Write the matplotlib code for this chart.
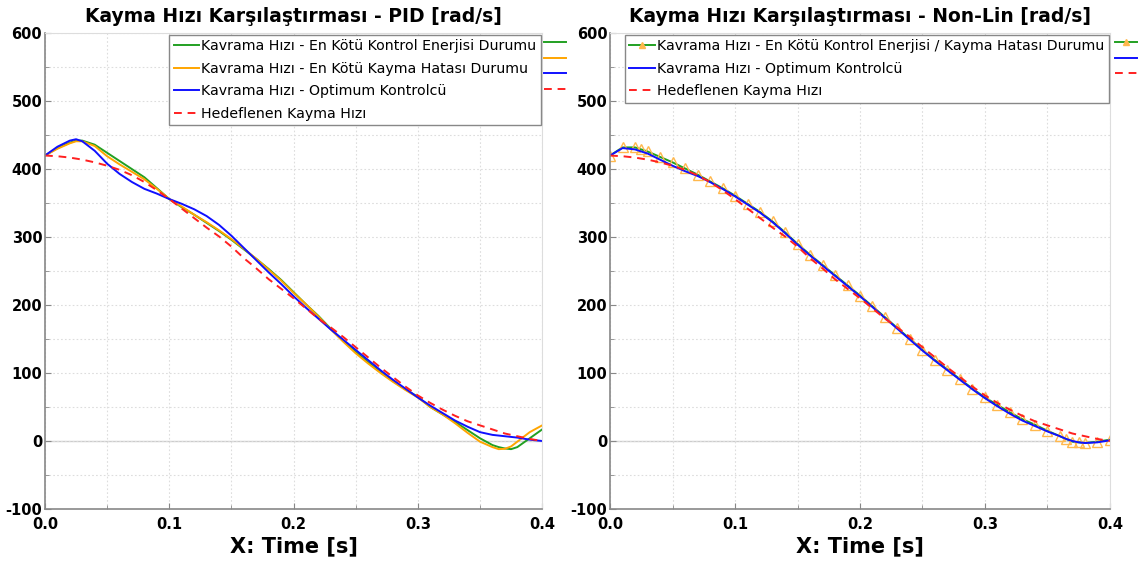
import numpy as np
import matplotlib.pyplot as plt
from matplotlib.lines import Line2D
from matplotlib.ticker import MultipleLocator

plt.rcParams['font.family'] = ['DejaVu Sans']

# time grid (s)
t = [0.0, 0.01, 0.02, 0.025, 0.03, 0.04, 0.05, 0.06, 0.07, 0.08, 0.09,
     0.10, 0.11, 0.12, 0.13, 0.14, 0.15, 0.16, 0.17, 0.18, 0.19,
     0.20, 0.21, 0.22, 0.23, 0.24, 0.25, 0.26, 0.27, 0.28, 0.29,
     0.30, 0.31, 0.32, 0.33, 0.34, 0.35, 0.36, 0.365, 0.37, 0.375,
     0.38, 0.39, 0.40]

# target slip speed (both panels)
hedef = [420, 419, 417, 415.5, 414, 410, 405, 399, 391, 381, 369,
         356, 342, 328, 314, 301, 286, 269, 254, 238, 224,
         210, 195, 180, 167, 153, 138, 123, 108, 94, 80,
         67, 56, 46, 37, 29, 23, 17, 14, 11, 9,
         7, 3, 0]

# PID panel
pid_enerji = [420, 431, 439, 442, 442, 436, 424, 412, 400, 388, 372,
              356, 344, 333, 321, 309, 296, 282, 268, 253, 237,
              219, 201, 184, 165, 147, 131, 116, 101, 88, 76,
              65, 50, 39, 28, 16, 4, -6, -9, -11, -12,
              -9, 4, 17]
pid_kayma = [420, 430, 438, 441, 441, 434, 419, 407, 396, 385, 371,
             356, 345, 333, 322, 310, 297, 283, 268, 252, 236,
             218, 201, 183, 164, 146, 129, 114, 100, 87, 75,
             64, 50, 39, 26, 12, -1, -9, -12, -11.5, -8,
             -1, 13, 23]
pid_opt = [420, 433, 442, 444, 441, 427, 408, 393, 381, 371, 364,
           356, 349, 341, 331, 318, 302, 284, 266, 248, 231,
           213, 196, 180, 164, 149, 134, 119, 104, 90, 77,
           64, 52, 41, 30, 21, 13, 9, 8, 7, 6,
           5, 2, 0]

# Non-Lin panel
nl_enerji_kayma = [420, 432, 432, 429, 426, 418, 410, 401, 392, 382, 372,
                   361, 349, 337, 323, 307, 290, 274, 259, 244, 229,
                   214, 198, 182, 166, 150, 134, 119, 105, 91, 77,
                   64, 53, 42, 32, 24, 15, 7, 3, -1, -2,
                   -3, -1, 2]
nl_opt = [420, 431, 429, 426, 423, 414, 405, 397, 390, 381, 371,
          360, 348, 336, 322, 306, 289, 273, 258, 243, 228,
          213, 197, 181, 165, 149, 133, 118, 104, 90, 76,
          63, 51, 40, 30, 22, 14, 7, 3, 0, -2,
          -3, -2, 1]

green = '#22a022'
orange = '#ffa500'
blue = '#1010ff'
red = '#ff2020'
tri = '#ffb84d'

fig = plt.figure(figsize=(11.39, 5.63), dpi=100)
ax1 = fig.add_axes([0.0395, 0.096, 0.4365, 0.845])
ax2 = fig.add_axes([0.5356, 0.096, 0.4389, 0.845])


def style(ax, title):
    ax.xaxis.set_minor_locator(MultipleLocator(0.05))
    ax.yaxis.set_minor_locator(MultipleLocator(50))
    ax.grid(True, which='both', color='#dddddd', linestyle=(0, (1.5, 2)), linewidth=0.8)
    ax.axhline(0, color='#cccccc', linewidth=1, zorder=1)
    for s in ['top', 'right']:
        ax.spines[s].set_color('#dddddd')
    for s in ['left', 'bottom']:
        ax.spines[s].set_color('#888888')
        ax.spines[s].set_linewidth(1.2)
    ax.tick_params(which='both', direction='in', color='#888888')
    ax.tick_params(which='major', length=4)
    ax.tick_params(which='minor', length=3)
    ax.tick_params(labelsize=10.5)
    ax.tick_params(axis='y', pad=2)
    ax.tick_params(axis='x', pad=6)
    ax.set_xticks([0.0, 0.1, 0.2, 0.3, 0.4])
    ax.set_xticklabels(['0.0', '0.1', '0.2', '0.3', '0.4'], fontweight='bold')
    ax.set_yticks([-100, 0, 100, 200, 300, 400, 500, 600])
    ax.set_yticklabels(['-100', '0', '100', '200', '300', '400', '500', '600'], fontweight='bold')
    ax.set_xlim(0, 0.4)
    ax.set_ylim(-100, 600)
    ax.set_title(title, fontsize=13.5, fontweight='bold', pad=8)
    ax.set_xlabel('X: Time [s]', fontsize=15, fontweight='bold', labelpad=3)


ax1.plot(t, pid_enerji, color=green, lw=1.4, label='Kavrama Hızı - En Kötü Kontrol Enerjisi Durumu')
ax1.plot(t, pid_kayma, color=orange, lw=1.4, label='Kavrama Hızı - En Kötü Kayma Hatası Durumu')
ax1.plot(t, pid_opt, color=blue, lw=1.4, label='Kavrama Hızı - Optimum Kontrolcü')
ax1.plot(t, hedef, color=red, lw=1.4, ls=(0, (4, 3)), label='Hedeflenen Kayma Hızı')
style(ax1, 'Kayma Hızı Karşılaştırması - PID [rad/s]')

ax2.plot(t, nl_enerji_kayma, color=green, lw=1.4, marker='^', markersize=7,
         markerfacecolor='none', markeredgecolor=tri, markeredgewidth=1,
         label='Kavrama Hızı - En Kötü Kontrol Enerjisi / Kayma Hatası Durumu')
ax2.plot(t, nl_opt, color=blue, lw=1.4, label='Kavrama Hızı - Optimum Kontrolcü')
ax2.plot(t, hedef, color=red, lw=1.4, ls=(0, (4, 3)), label='Hedeflenen Kayma Hızı')
style(ax2, 'Kayma Hızı Karşılaştırması - Non-Lin [rad/s]')

for ax in (ax1, ax2):
    leg = ax.legend(loc='upper right', fontsize=10.2, frameon=True, fancybox=False,
                    borderaxespad=0.1, handlelength=1.8, handletextpad=0.15,
                    labelspacing=0.62, borderpad=0.3, framealpha=1)
    leg.get_frame().set_edgecolor('#888888')
    leg.get_frame().set_linewidth(1)
    for h in leg.get_lines():
        h.set_markersize(4)
        h.set_markerfacecolor(tri)

# stray legend handles drawn past the right edge of each plot
W, H = 1139, 563
def stub(x0, y, color, ls='-', marker=None):
    fig.add_artist(Line2D([x0 / W, (x0 + 11) / W, (x0 + 22) / W], [1 - y / H] * 3, color=color,
                          lw=1.4, ls=ls, marker=marker, markevery=[1] if marker else None,
                          markersize=4, markerfacecolor=tri, markeredgecolor=tri))

stub(544, 42, green)
stub(544, 58, orange)
stub(544, 73, blue)
stub(544, 89, red, ls=(0, (4, 3)))
stub(1115, 42, green, marker='^')
stub(1115, 58, blue)
stub(1115, 73, red, ls=(0, (4, 3)))

fig.savefig('out.png', dpi=100)
